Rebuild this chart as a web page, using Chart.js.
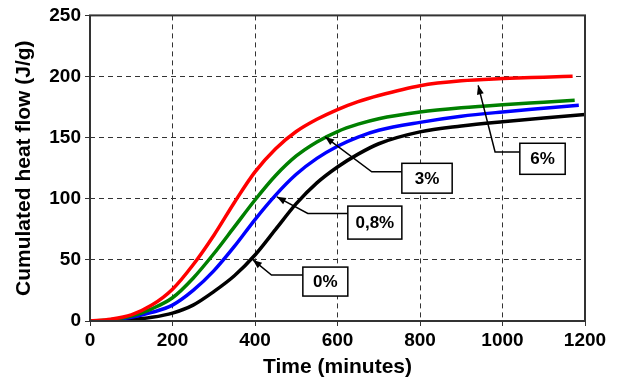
<!DOCTYPE html>
<html>
<head>
<meta charset="utf-8">
<script src="https://cdn.jsdelivr.net/npm/chart.js@4.4.1/dist/chart.umd.min.js"></script>
<style>
  html, body { margin: 0; padding: 0; background: #fff; }
  #wrap { width: 617px; height: 384px; }
</style>
</head>
<body>
<div id="wrap"><canvas id="grafico" width="617" height="384"></canvas></div>
<script>
// valores (tempo em minutos, fluxo de calor acumulado em J/g)
const tempo = [0, 50, 100, 150, 200, 250, 300, 350, 400, 450, 500, 550, 600, 650, 700, 800, 900, 1000, 1100];

const calor0 = [0, 0, 1, 3, 6.5, 13, 24, 37, 54, 75, 96, 113, 126, 136.5, 145, 154.7, 159.5, 163, 166];
const calor08 = [0, 0.5, 3, 7, 13, 25, 41, 61, 83, 103, 120, 133, 143, 150.5, 156, 162.5, 167.5, 171, 174];
const calor3 = [0, 1, 4, 10, 19, 35, 55, 77, 99, 119, 135, 146.5, 155, 161, 165.5, 171, 174.5, 177, 179];
const calor6 = [0, 1.5, 5, 13, 26, 46, 70, 97, 122, 141, 155, 165, 173, 179.5, 184.5, 192.5, 196.5, 198.3, 199.5];

// último ponto de cada curva
const tempoFinal = [1200, 1185, 1175, 1170];
const calorFinal = [169, 176.5, 180.5, 200.3];

const rotulos = ['0%', '0,8%', '3%', '6%'];
const cores = ['#000000', '#0000ff', '#008000', '#ff0000'];

const ticksX = [0, 200, 400, 600, 800, 1000, 1200];
const ticksY = [0, 50, 100, 150, 200, 250];

// caixas de legenda com seta: caixa (x1,x2,y1,y2), cotovelo e ponta, em coordenadas dos dados
const notas = [
  { texto: '0%', caixa: [516, 625, 20.4, 44.1], cotovelo: [440, 37.6], ponta: [395, 50] },
  { texto: '0,8%', caixa: [625, 756, 67, 94], cotovelo: [528, 88], ponta: [453, 101.6] },
  { texto: '3%', caixa: [756, 878, 104.6, 129], cotovelo: [683, 122], ponta: [570, 150.6] },
  { texto: '6%', caixa: [1042, 1152, 120, 145.4], cotovelo: [982, 138.3], ponta: [941, 192.8] }
];

const series = [calor0, calor08, calor3, calor6];

const datasets = series.map((s, i) => ({
  label: rotulos[i],
  data: tempo.map((t, j) => ({ x: t, y: s[j] })).concat([{ x: tempoFinal[i], y: calorFinal[i] }]),
  borderColor: cores[i],
  borderWidth: 3.5,
  pointRadius: 0,
  fill: false,
  cubicInterpolationMode: 'monotone',
  order: 4 - i
}));

const fonte = '"Liberation Sans", Arial, sans-serif';

const moldura = {
  id: 'moldura',
  afterDatasetsDraw(chart) {
    const { ctx, chartArea: a, scales: { x, y } } = chart;
    ctx.save();
    // caixa do gráfico
    ctx.strokeStyle = '#333';
    ctx.lineWidth = 2;
    ctx.strokeRect(a.left, a.top, a.right - a.left, a.bottom - a.top);

    ctx.font = 'bold 17px ' + fonte;
    ctx.textAlign = 'center';
    ctx.textBaseline = 'middle';
    notas.forEach(n => {
      const x1 = x.getPixelForValue(n.caixa[0]);
      const x2 = x.getPixelForValue(n.caixa[1]);
      const y1 = y.getPixelForValue(n.caixa[3]);
      const y2 = y.getPixelForValue(n.caixa[2]);
      const ex = x.getPixelForValue(n.cotovelo[0]);
      const ey = y.getPixelForValue(n.cotovelo[1]);
      const px = x.getPixelForValue(n.ponta[0]);
      const py = y.getPixelForValue(n.ponta[1]);

      ctx.strokeStyle = '#000';
      ctx.lineWidth = 1.5;
      ctx.beginPath();
      ctx.moveTo(x1, ey);
      ctx.lineTo(ex, ey);
      ctx.lineTo(px, py);
      ctx.stroke();

      // ponta da seta
      const ang = Math.atan2(py - ey, px - ex);
      const L = 9, W = 3.5;
      ctx.fillStyle = '#000';
      ctx.beginPath();
      ctx.moveTo(px, py);
      ctx.lineTo(px - L * Math.cos(ang) + W * Math.sin(ang), py - L * Math.sin(ang) - W * Math.cos(ang));
      ctx.lineTo(px - L * Math.cos(ang) - W * Math.sin(ang), py - L * Math.sin(ang) + W * Math.cos(ang));
      ctx.closePath();
      ctx.fill();

      ctx.fillStyle = '#fff';
      ctx.fillRect(x1, y1, x2 - x1, y2 - y1);
      ctx.lineWidth = 1.5;
      ctx.strokeRect(x1, y1, x2 - x1, y2 - y1);
      ctx.fillStyle = '#000';
      ctx.fillText(n.texto, (x1 + x2) / 2, (y1 + y2) / 2 + 1);
    });
    ctx.restore();
  }
};

const grade = { color: '#333', lineWidth: 1, tickLength: 5, tickColor: '#333', tickBorderDash: [] };

new Chart(document.getElementById('grafico'), {
  type: 'line',
  data: { datasets },
  plugins: [moldura],
  options: {
    responsive: false,
    animation: false,
    layout: { padding: { top: 15, right: 32, left: 8, bottom: 0 } },
    plugins: {
      legend: { display: false },
      tooltip: { enabled: false }
    },
    scales: {
      x: {
        type: 'linear',
        min: 0,
        max: 1200,
        afterBuildTicks: s => { s.ticks = ticksX.map(v => ({ value: v })); },
        afterFit: s => { s.height = 63; },
        grid: grade,
        border: { display: false, dash: [5, 4] },
        ticks: { color: '#000', font: { family: fonte, size: 19, weight: 'bold' }, padding: 3, maxRotation: 0, callback: v => String(v) },
        title: { display: true, text: 'Time (minutes)', color: '#000', font: { family: fonte, size: 21, weight: 'bold' }, padding: { top: 0 } }
      },
      y: {
        min: 0,
        max: 250,
        afterBuildTicks: s => { s.ticks = ticksY.map(v => ({ value: v })); },
        afterFit: s => { s.width = 82; },
        grid: grade,
        border: { display: false, dash: [5, 4] },
        ticks: { color: '#000', font: { family: fonte, size: 19, weight: 'bold' }, padding: 4, callback: v => String(v) },
        title: { display: true, text: 'Cumulated heat flow (J/g)', color: '#000', font: { family: fonte, size: 21, weight: 'bold' }, padding: { bottom: 0 } }
      }
    }
  }
});
</script>
</body>
</html>
